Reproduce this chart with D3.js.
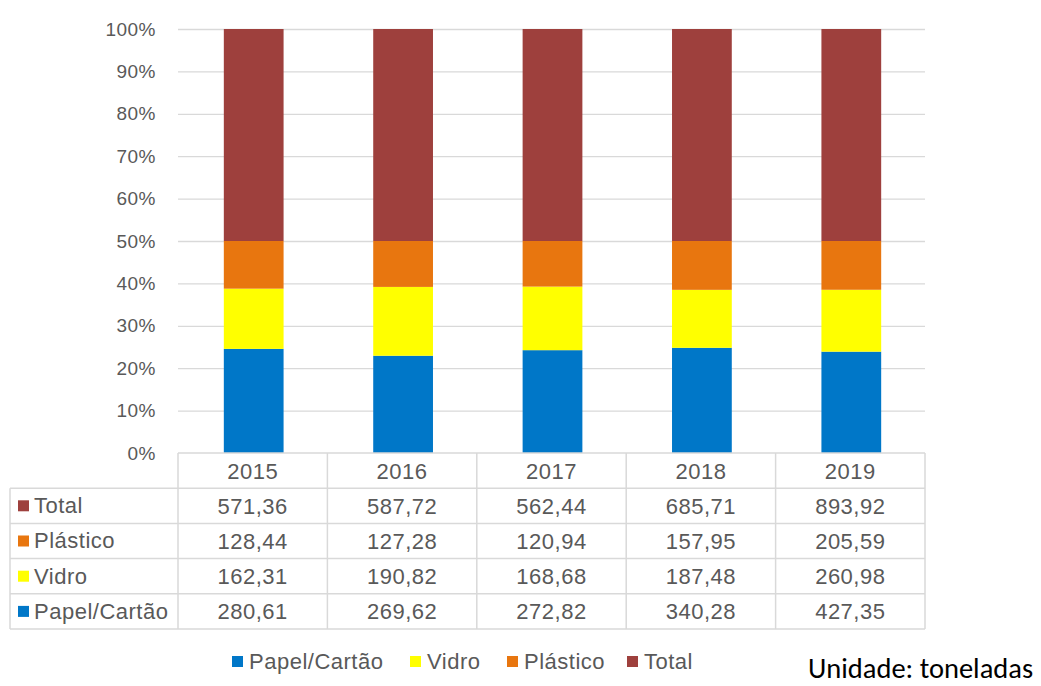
<!DOCTYPE html>
<html lang="pt">
<head>
  <meta charset="UTF-8">
  <title>Resíduos recolhidos</title>
  <script src="https://d3js.org/d3.v7.min.js"></script>
  <style>
    body { margin: 0; background: #fff; }
    text { font-family: "Liberation Sans", Arial, sans-serif; fill: #595959; letter-spacing: 0.5px; }
  </style>
</head>
<body>
  <div id="chart"></div>
  <script>
    // data (toneladas)
    const years = ["2015", "2016", "2017", "2018", "2019"];
    const seriesNames = ["Papel/Cartão", "Vidro", "Plástico", "Total"];
    const papel = [280.61, 269.62, 272.82, 340.28, 427.35];
    const vidro = [162.31, 190.82, 168.68, 187.48, 260.98];
    const plastico = [128.44, 127.28, 120.94, 157.95, 205.59];
    const total = [571.36, 587.72, 562.44, 685.71, 893.92];
    const colors = ["#0077c8", "#ffff00", "#e8760f", "#9e403d"];
    const yTicks = [0, 0.1, 0.2, 0.3, 0.4, 0.5, 0.6, 0.7, 0.8, 0.9, 1];

    const width = 1041, height = 686;
    const plotL = 178, plotR = 925, plotT = 29, plotB = 453;
    const rowH = 35.2, labelLeft = 10;

    const table = years.map((y, i) => ({
      year: y,
      "Papel/Cartão": papel[i],
      "Vidro": vidro[i],
      "Plástico": plastico[i],
      "Total": total[i]
    }));

    const stacked = d3.stack().keys(seriesNames).offset(d3.stackOffsetExpand)(table);

    const x = d3.scaleBand().domain(years).range([plotL, plotR]).paddingInner(0.6).paddingOuter(0.3);
    const xCol = d3.scaleBand().domain(years).range([plotL, plotR]);
    const y = d3.scaleLinear().domain([0, 1]).range([plotB, plotT]);
    const color = d3.scaleOrdinal().domain(seriesNames).range(colors);

    const svg = d3.select("#chart").append("svg")
      .attr("width", width).attr("height", height);

    // gridlines
    svg.append("g").selectAll("line")
      .data(yTicks.filter(d => d > 0))
      .join("line")
      .attr("x1", plotL).attr("x2", plotR)
      .attr("y1", d => y(d) + 0.5).attr("y2", d => y(d) + 0.5)
      .attr("stroke", "#d9d9d9").attr("stroke-width", 1.3);

    // tick labels
    svg.append("g").selectAll("text")
      .data(yTicks)
      .join("text")
      .attr("x", 156).attr("y", d => y(d))
      .attr("dy", "0.35em")
      .attr("text-anchor", "end")
      .style("font-size", "19px")
      .text(d3.format(".0%"));

    // bars
    svg.append("g").selectAll("g")
      .data(stacked)
      .join("g")
      .attr("fill", d => color(d.key))
      .selectAll("rect")
      .data(d => d)
      .join("rect")
      .attr("x", d => x(d.data.year) + 1)
      .attr("width", x.bandwidth())
      .attr("y", d => y(d[1]))
      .attr("height", d => y(d[0]) - y(d[1]));

    // data table
    const rows = seriesNames.slice().reverse(); // Total on top
    const tbl = svg.append("g");
    const gridColor = "#d9d9d9";
    const tableBottom = plotB + rowH * (rows.length + 1);

    // horizontal lines
    tbl.append("line")
      .attr("x1", plotL).attr("x2", plotR).attr("y1", plotB).attr("y2", plotB)
      .attr("stroke", gridColor).attr("stroke-width", 1.5);
    tbl.selectAll("line.h")
      .data(d3.range(1, rows.length + 2))
      .join("line").attr("class", "h")
      .attr("x1", labelLeft).attr("x2", plotR)
      .attr("y1", i => plotB + i * rowH).attr("y2", i => plotB + i * rowH)
      .attr("stroke", gridColor).attr("stroke-width", 1.5);
    // vertical lines
    tbl.selectAll("line.v")
      .data(years.map(yv => xCol(yv)).concat([plotR]))
      .join("line").attr("class", "v")
      .attr("x1", d => d).attr("x2", d => d)
      .attr("y1", plotB).attr("y2", tableBottom)
      .attr("stroke", gridColor).attr("stroke-width", 1.5);
    tbl.append("line")
      .attr("x1", labelLeft).attr("x2", labelLeft)
      .attr("y1", plotB + rowH).attr("y2", tableBottom)
      .attr("stroke", gridColor).attr("stroke-width", 1.5);

    // header years
    tbl.selectAll("text.yr")
      .data(years)
      .join("text").attr("class", "yr")
      .attr("x", d => xCol(d) + xCol.bandwidth() / 2)
      .attr("y", plotB + rowH / 2)
      .attr("dy", "0.36em")
      .attr("text-anchor", "middle")
      .style("font-size", "22px")
      .text(d => d);

    const fmt = v => d3.format(".2f")(v).replace(".", ",");

    rows.forEach((name, r) => {
      const cy = plotB + rowH * (r + 1) + rowH / 2;
      tbl.append("rect")
        .attr("x", 18).attr("y", cy - 5.5).attr("width", 11).attr("height", 11)
        .attr("fill", color(name));
      tbl.append("text")
        .attr("x", 34).attr("y", cy).attr("dy", "0.34em")
        .style("font-size", "22px")
        .text(name);
      tbl.selectAll(null)
        .data(table)
        .join("text")
        .attr("x", d => xCol(d.year) + xCol.bandwidth() / 2)
        .attr("y", cy).attr("dy", "0.36em")
        .attr("text-anchor", "middle")
        .style("font-size", "22px")
        .text(d => fmt(d[name]));
    });

    // legend
    const legendX = [232, 410, 507, 627];
    const lg = svg.append("g");
    seriesNames.forEach((name, i) => {
      lg.append("rect")
        .attr("x", legendX[i]).attr("y", 656).attr("width", 11).attr("height", 11)
        .attr("fill", color(name));
      lg.append("text")
        .attr("x", legendX[i] + 17).attr("y", 661).attr("dy", "0.35em")
        .style("font-size", "22px")
        .text(name);
    });

    // unit note
    svg.append("text")
      .attr("x", 808).attr("y", 678)
      .style("font-family", "Carlito, 'Open Sans', 'Noto Sans', sans-serif")
      .style("font-size", "28.5px")
      .style("letter-spacing", "0px")
      .style("fill", "#000")
      .text("Unidade: toneladas");
  </script>
</body>
</html>
